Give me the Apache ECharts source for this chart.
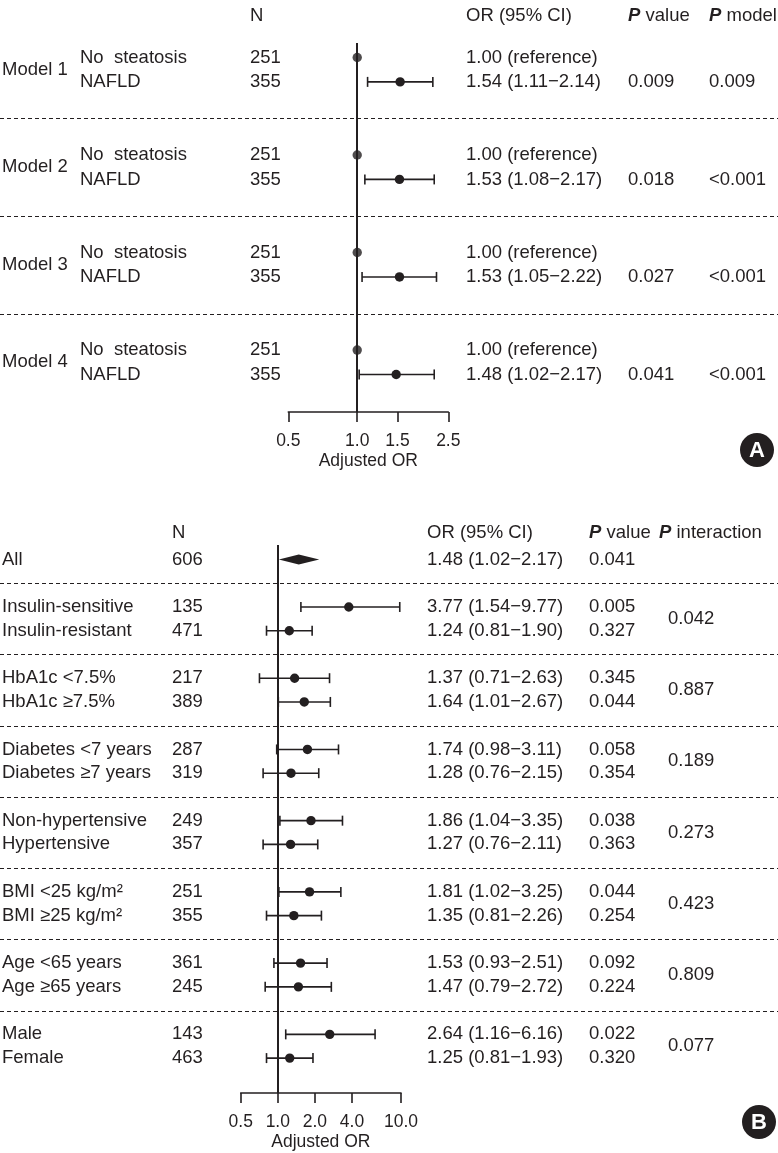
<!DOCTYPE html>
<html><head><meta charset="utf-8">
<script src="https://cdn.jsdelivr.net/npm/echarts@6/dist/echarts.min.js"></script>
<style>html,body{margin:0;padding:0;background:#fff}#c{width:778px;height:1153px}</style>
</head><body><div id="c"></div>
<script>
// ---------- Panel A data ----------
const aModels = ['Model 1', 'Model 2', 'Model 3', 'Model 4'];
const aGroups = ['No steatosis', 'NAFLD'];
const aN = [251, 355];
const aRefOR = 1.00;
const aOR = [1.54, 1.53, 1.53, 1.48];
const aLo = [1.11, 1.08, 1.05, 1.02];
const aHi = [2.14, 2.17, 2.22, 2.17];
const aP = ['0.009', '0.018', '0.027', '0.041'];
const aPModel = ['0.009', '<0.001', '<0.001', '<0.001'];
const aTicks = [0.5, 1.0, 1.5, 2.5];

// ---------- Panel B data ----------
const bAll = { name: 'All', n: 606, or: 1.48, lo: 1.02, hi: 2.17, p: '0.041' };
const bNames = ['Insulin-sensitive', 'Insulin-resistant', 'HbA1c <7.5%', 'HbA1c \u22657.5%',
  'Diabetes <7 years', 'Diabetes \u22657 years', 'Non-hypertensive', 'Hypertensive',
  'BMI <25 kg/m\u00b2', 'BMI \u226525 kg/m\u00b2', 'Age <65 years', 'Age \u226565 years', 'Male', 'Female'];
const bN = [135, 471, 217, 389, 287, 319, 249, 357, 251, 355, 361, 245, 143, 463];
const bOR = [3.77, 1.24, 1.37, 1.64, 1.74, 1.28, 1.86, 1.27, 1.81, 1.35, 1.53, 1.47, 2.64, 1.25];
const bLo = [1.54, 0.81, 0.71, 1.01, 0.98, 0.76, 1.04, 0.76, 1.02, 0.81, 0.93, 0.79, 1.16, 0.81];
const bHi = [9.77, 1.90, 2.63, 2.67, 3.11, 2.15, 3.35, 2.11, 3.25, 2.26, 2.51, 2.72, 6.16, 1.93];
const bP = ['0.005', '0.327', '0.345', '0.044', '0.058', '0.354', '0.038', '0.363', '0.044', '0.254', '0.092', '0.224', '0.022', '0.320'];
const bPInt = ['0.042', '0.887', '0.189', '0.273', '0.423', '0.809', '0.077'];
const bTicks = [0.5, 1, 2, 4, 10];

// ---------- layout ----------
const FONT = '"Liberation Sans", Arial, Helvetica, sans-serif';
const FS = 18.5;
const AFS = 17.5;
const INK = '#231f20';
const fmt = (v) => v.toFixed(2);
const ciText = (o, l, h) => fmt(o) + ' (' + fmt(l) + '\u2212' + fmt(h) + ')';

// row indices
const aRefRow = (k) => 4 * k, aNafRow = (k) => 4 * k + 1;
const aSepRows = [2.5, 6.5, 10.5];
const bRow = (i) => 3 * Math.floor(i / 2) + 2 + (i % 2);
const bSepRows = [1, 4, 7, 10, 13, 16, 19];

const chart = echarts.init(document.getElementById('c'), null, { renderer: 'canvas' });

function ciSeries(xi, yi, data) {
  return {
    type: 'custom', xAxisIndex: xi, yAxisIndex: yi, data: data, clip: false, silent: true,
    encode: { x: 0, y: 1 }, z: 5,
    renderItem: function (params, api) {
      const row = api.value(1);
      const c = api.coord([api.value(0), row]);
      const l = api.coord([api.value(2), row]);
      const h = api.coord([api.value(3), row]);
      const st = { stroke: INK, lineWidth: 1.6 };
      return { type: 'group', children: [
        { type: 'line', shape: { x1: l[0], y1: c[1], x2: h[0], y2: c[1] }, style: st },
        { type: 'line', shape: { x1: l[0], y1: c[1] - 5, x2: l[0], y2: c[1] + 5 }, style: st },
        { type: 'line', shape: { x1: h[0], y1: c[1] - 5, x2: h[0], y2: c[1] + 5 }, style: st },
        { type: 'circle', shape: { cx: c[0], cy: c[1], r: 4.7 }, style: { fill: INK } }
      ] };
    }
  };
}

function xAxisCfg(gi, min, max, ticks) {
  return {
    type: 'log', logBase: 10, gridIndex: gi, min: min, max: max, position: 'bottom',
    axisLine: { show: true, onZero: false, lineStyle: { color: INK, width: 1.6 } },
    axisTick: { show: true, customValues: ticks, length: 10, inside: false, lineStyle: { color: INK, width: 1.6 } },
    axisLabel: { customValues: ticks, formatter: (v) => Number(v).toFixed(1), fontSize: AFS, color: INK, fontFamily: FONT, margin: 20, showMinLabel: true, showMaxLabel: true, hideOverlap: false },
    splitLine: { show: false },
    name: 'Adjusted OR', nameLocation: 'middle', nameGap: 40,
    nameTextStyle: { fontSize: AFS, color: INK, fontFamily: FONT }
  };
}

const aCI = aOR.map((o, k) => [o, aNafRow(k), aLo[k], aHi[k]]);
const aRefPts = aModels.map((m, k) => [aRefOR, aRefRow(k)]);
const bCI = bOR.map((o, i) => [o, bRow(i), bLo[i], bHi[i]]);

chart.setOption({
  animation: false,
  backgroundColor: '#fff',
  grid: [
    { left: 288.3, top: 43, width: 160, height: 369 },
    { left: 240.7, top: 545, width: 160.3, height: 548 }
  ],
  xAxis: [xAxisCfg(0, 0.5, 2.5, aTicks), xAxisCfg(1, 0.5, 10, bTicks)],
  yAxis: [
    { type: 'value', gridIndex: 0, min: -0.595, max: 14.54, inverse: true, show: false },
    { type: 'value', gridIndex: 1, min: -0.61, max: 22.47, inverse: true, show: false }
  ],
  series: [
    {
      type: 'scatter', xAxisIndex: 0, yAxisIndex: 0, data: aRefPts, symbolSize: 9.4,
      itemStyle: { color: INK }, silent: true, z: 5,
      markLine: { silent: true, symbol: 'none', label: { show: false },
        lineStyle: { color: INK, width: 2, type: 'solid' }, data: [{ xAxis: 1 }] }
    },
    ciSeries(0, 0, aCI),
    {
      type: 'scatter', xAxisIndex: 1, yAxisIndex: 1, data: [], silent: true,
      markLine: { silent: true, symbol: 'none', label: { show: false },
        lineStyle: { color: INK, width: 2, type: 'solid' }, data: [{ xAxis: 1 }] }
    },
    ciSeries(1, 1, bCI),
    {
      type: 'custom', xAxisIndex: 1, yAxisIndex: 1, clip: false, silent: true, z: 5,
      data: [[bAll.or, 0, bAll.lo, bAll.hi]], encode: { x: 0, y: 1 },
      renderItem: function (params, api) {
        const row = api.value(1);
        const c = api.coord([api.value(0), row]);
        const l = api.coord([api.value(2), row]);
        const h = api.coord([api.value(3), row]);
        return { type: 'polygon', shape: { points: [[l[0], c[1]], [c[0], c[1] - 5], [h[0], c[1]], [c[0], c[1] + 5]] }, style: { fill: INK } };
      }
    }
  ]
});

// ---------- text & separators ----------
const yA = (r) => chart.convertToPixel({ yAxisIndex: 0 }, r);
const yB = (r) => chart.convertToPixel({ yAxisIndex: 1 }, r);
const g = [];
function txt(x, y, s, extra) {
  g.push({ type: 'text', x: x, y: y, silent: true,
    style: Object.assign({ text: s, fill: INK, fontSize: FS, fontFamily: FONT, align: 'left', verticalAlign: 'middle' }, extra || {}) });
}
const richP = { p: { fontStyle: 'italic', fontWeight: 'bold', fontSize: FS, fontFamily: FONT, fill: INK }, n: { fontSize: FS, fontFamily: FONT, fill: INK } };
function sep(y) {
  g.push({ type: 'line', silent: true, shape: { x1: 0, y1: y, x2: 778, y2: y },
    style: { stroke: INK, lineWidth: 1.2, lineDash: [4, 3] } });
}

// Panel A columns
const AX = { model: 2, grp: 80, n: 250, or: 466, p: 628, pm: 709 };
const aHead = yA(-1.7);
txt(AX.n, aHead, 'N');
txt(AX.or, aHead, 'OR (95% CI)');
txt(AX.p, aHead, '{p|P}{n| value}', { rich: richP });
txt(AX.pm, aHead, '{p|P}{n| model}', { rich: richP });
aModels.forEach((m, k) => {
  txt(AX.model, yA(4 * k + 0.5), m);
  txt(AX.grp, yA(aRefRow(k)), aGroups[0].replace(' ', '  '));
  txt(AX.grp, yA(aNafRow(k)), aGroups[1]);
  txt(AX.n, yA(aRefRow(k)), String(aN[0]));
  txt(AX.n, yA(aNafRow(k)), String(aN[1]));
  txt(AX.or, yA(aRefRow(k)), fmt(aRefOR) + ' (reference)');
  txt(AX.or, yA(aNafRow(k)), ciText(aOR[k], aLo[k], aHi[k]));
  txt(AX.p, yA(aNafRow(k)), aP[k]);
  txt(AX.pm, yA(aNafRow(k)), aPModel[k]);
});
aSepRows.forEach((r) => sep(Math.round(yA(r)) + 0.5));

// Panel B columns
const BX = { name: 2, n: 172, or: 427, p: 589, pi: 668, piHead: 659 };
const bHead = yB(-1.1);
txt(BX.n, bHead, 'N');
txt(BX.or, bHead, 'OR (95% CI)');
txt(BX.p, bHead, '{p|P}{n| value}', { rich: richP });
txt(BX.piHead, bHead, '{p|P}{n| interaction}', { rich: richP });
txt(BX.name, yB(0), bAll.name);
txt(BX.n, yB(0), String(bAll.n));
txt(BX.or, yB(0), ciText(bAll.or, bAll.lo, bAll.hi));
txt(BX.p, yB(0), bAll.p);
bNames.forEach((nm, i) => {
  const y = yB(bRow(i));
  txt(BX.name, y, nm);
  txt(BX.n, y, String(bN[i]));
  txt(BX.or, y, ciText(bOR[i], bLo[i], bHi[i]));
  txt(BX.p, y, bP[i]);
});
bPInt.forEach((v, j) => txt(BX.pi, yB(3 * j + 2.5), v));
bSepRows.forEach((r) => sep(Math.round(yB(r)) + 0.5));

// panel badges
function badge(cx, cy, s) {
  g.push({ type: 'circle', silent: true, shape: { cx: cx, cy: cy, r: 17 }, style: { fill: INK } });
  g.push({ type: 'text', silent: true, x: cx, y: cy + 1, style: { text: s, fill: '#fff', fontSize: 22, fontWeight: 'bold', fontFamily: FONT, align: 'center', verticalAlign: 'middle' } });
}
badge(757, 450, 'A');
badge(759, 1122, 'B');

chart.setOption({ graphic: { elements: g } });
</script>
</body></html>
